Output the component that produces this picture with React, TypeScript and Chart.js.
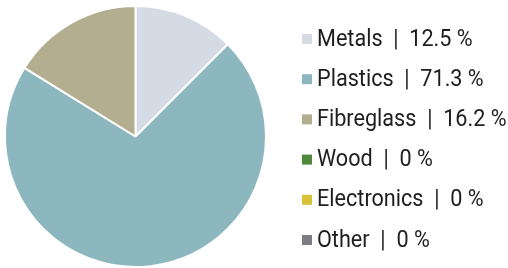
import React, { useEffect, useRef } from "react";
import { Chart, registerables } from "chart.js";

Chart.register(...registerables);

const categories = ["Metals", "Plastics", "Fibreglass", "Wood", "Electronics", "Other"];
const shares = [12.5, 71.3, 16.2, 0, 0, 0];
const shareLabels = ["12.5", "71.3", "16.2", "0", "0", "0"];
const colors = ["#d4dbe5", "#8cb7bf", "#b2ae8f", "#4f8a3c", "#d9c23a", "#7f7b83"];

const legendPlugin = {
  id: "sideLegend",
  afterDraw(chart: any) {
    const ctx = chart.ctx as CanvasRenderingContext2D;
    ctx.save();
    const boxX = 302;
    const boxSize = 10;
    const firstTop = 34;
    const step = 40.2;
    categories.forEach((name, i) => {
      const top = firstTop + i * step;
      ctx.fillStyle = colors[i];
      ctx.fillRect(boxX, top, boxSize, boxSize);
      ctx.fillStyle = "#1e1e1e";
      ctx.font = "23px Roboto";
      ctx.textBaseline = "alphabetic";
      ctx.textAlign = "left";
      ctx.save();
      ctx.translate(317, top + boxSize + 1.5);
      ctx.scale(0.94, 1);
      ctx.fillText(`${name}  |  ${shareLabels[i]} %`, 0, 0);
      ctx.restore();
    });
    ctx.restore();
  },
};

export default function App() {
  const ref = useRef<HTMLCanvasElement>(null);
  useEffect(() => {
    if (!ref.current) return;
    const chart = new Chart(ref.current, {
      type: "pie",
      data: {
        labels: categories,
        datasets: [
          {
            data: shares,
            backgroundColor: colors,
            borderColor: "#ffffff",
            borderWidth: 2,
          },
        ],
      },
      options: {
        animation: false,
        responsive: false,
        devicePixelRatio: 1,
        layout: { padding: { top: 5, left: 0, right: 237, bottom: 0 } },
        plugins: {
          legend: { display: false },
          tooltip: { enabled: false },
        },
      },
      plugins: [legendPlugin],
    });
    return () => chart.destroy();
  }, []);
  return (
    <div style={{ position: "fixed", left: 0, top: 0, width: 508, height: 268, background: "#fff" }}>
      <canvas ref={ref} width={508} height={268} style={{ width: 508, height: 268 }} />
    </div>
  );
}
